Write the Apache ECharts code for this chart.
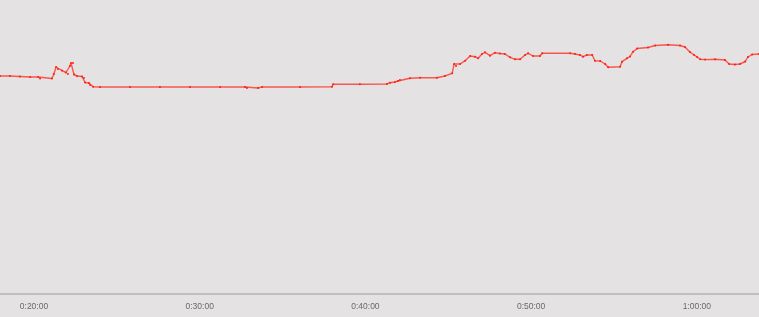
<!DOCTYPE html>
<html>
<head>
<meta charset="utf-8">
<script src="https://cdn.jsdelivr.net/npm/echarts@6/dist/echarts.min.js"></script>
<style>
html,body{margin:0;padding:0;background:#e4e2e2;}
#c{width:759px;height:317px;}
</style>
</head>
<body>
<div id="c"></div>
<script>
// elapsed time (seconds)
const times = [1077,1113,1149,1186,1215,1222,1265,1272,1280,1287,1301,1316,1323,1330,1334,1341,1345,1356,1374,1381,1385,1399,1403,1414,1439,1548,1656,1765,1874,1964,1971,2011,2026,2163,2279,2283,2380,2478,2489,2507,2518,2525,2561,2598,2659,2688,2714,2721,2728,2743,2761,2779,2797,2808,2822,2833,2851,2869,2887,2905,2924,2942,2960,2978,2989,3007,3032,3040,3141,3159,3177,3188,3202,3221,3231,3250,3268,3279,3322,3329,3347,3358,3369,3384,3423,3449,3496,3539,3557,3575,3590,3601,3612,3630,3666,3702,3717,3738,3756,3775,3785,3800,3825];
// series values
const values = [218,218,217.5,217,217,215.5,215.5,220,227,225,223.5,221.5,220,228,231,231,219.5,218,217.5,216,211.5,211,209,207.3,207,207,207,207,207,207,206,206,207,207,207.3,209.7,209.7,210,211.3,212,213,214,215.7,216.3,216.3,218,220.7,230,228,230,233.3,238,237.3,235.7,240,241.7,238.3,241.3,240.5,240,236.7,234.7,234.7,239,240.7,238,238,240.7,240.7,240,239,237.3,239,239,233.3,233,230,226.7,227.3,232.3,235.7,237.5,242.3,245.5,246.5,248.5,249.2,248.5,247,242,239,237,234.8,234.4,234.8,234,230,229.5,230,232.5,237,239.5,240];
// tick labels (seconds)
const tickValues = [1200,1800,2400,3000,3600];

function fmt(s){
  const h=Math.floor(s/3600), m=Math.floor((s%3600)/60), sec=Math.round(s%60);
  return h+':'+String(m).padStart(2,'0')+':'+String(sec).padStart(2,'0');
}

const chart = echarts.init(document.getElementById('c'));
chart.setOption({
  backgroundColor:'#e4e2e2',
  animation:false,
  grid:{left:0,right:0,top:0,bottom:23},
  xAxis:{
    type:'value', min:1077, max:3825,
    axisLine:{show:true,lineStyle:{color:'#b4b2b2',width:1.5}},
    axisTick:{show:false},
    splitLine:{show:false},
    axisLabel:{customValues:tickValues, formatter:fmt, color:'#6a6a6a', fontSize:8.5, fontFamily:'Liberation Sans, Arial, sans-serif', margin:8}
  },
  yAxis:{type:'value',min:0,max:294,show:false,splitLine:{show:false}},
  series:[{
    type:'line',
    data:times.map((t,i)=>[t,values[i]]),
    showSymbol:true,
    symbol:'circle',
    symbolSize:2,
    itemStyle:{color:'#ff1e10'},
    lineStyle:{color:'rgba(255,40,30,0.75)',width:1.4}
  }]
});
</script>
</body>
</html>
